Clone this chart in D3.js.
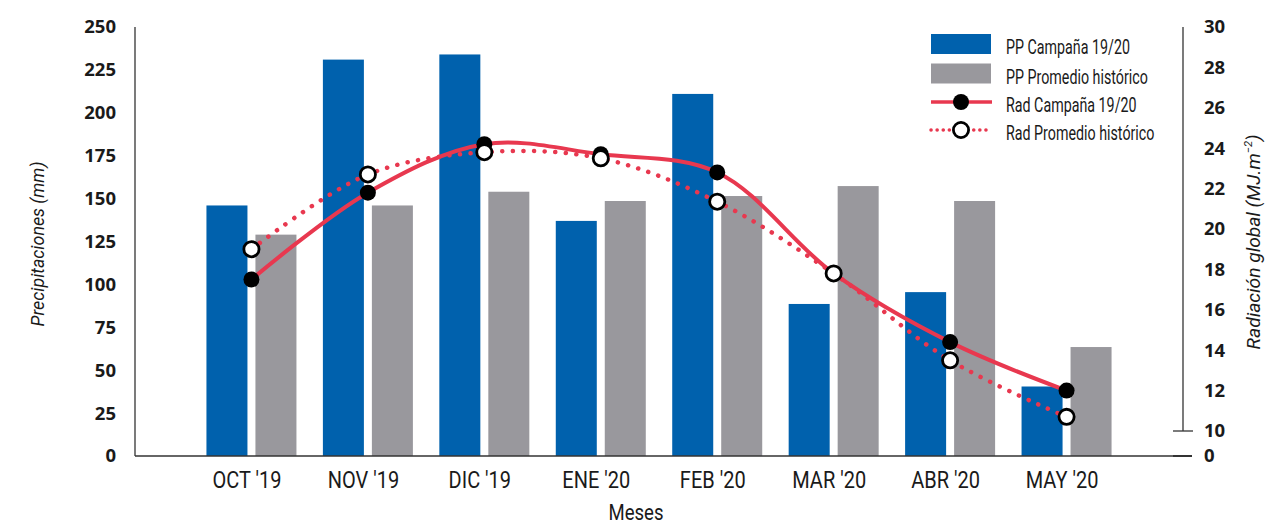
<!DOCTYPE html>
<html>
<head>
<meta charset="utf-8">
<script src="https://cdn.jsdelivr.net/npm/d3@7"></script>
<style>
  html, body { margin: 0; padding: 0; background: #fff; }
  svg { display: block; }
  .tick-num { font-family: "Open Sans", "Liberation Sans", sans-serif; font-weight: 700; font-size: 18.5px; fill: #1a1a1a; }
  .cond { font-family: Roboto, "Open Sans", sans-serif; fill: #1a1a1a; }
</style>
</head>
<body>
<svg id="chart" width="1265" height="526"></svg>
<script>
// Monthly categories (Oct 2019 – May 2020)
const months = ["OCT '19", "NOV '19", "DIC '19", "ENE '20", "FEB '20", "MAR '20", "ABR '20", "MAY '20"];

// Precipitation (mm)
const ppCampana  = [146, 231, 234, 137, 211, 88.6, 95.5, 40.5];
const ppHistorico = [129, 146, 154, 148.6, 151.5, 157.3, 148.6, 63.5];

// Global radiation (MJ.m-2)
const radCampana  = [17.5, 21.8, 24.2, 23.7, 22.8, 17.8, 14.4, 12.0];
const radHistorico = [19.0, 22.7, 23.8, 23.5, 21.35, 17.8, 13.5, 10.7];

// Axis ticks
const leftTicks  = [0, 25, 50, 75, 100, 125, 150, 175, 200, 225, 250];
const rightTicks = [10, 12, 14, 16, 18, 20, 22, 24, 26, 28, 30];

const legendItems = ["PP Campaña 19/20", "PP Promedio histórico", "Rad Campaña 19/20", "Rad Promedio histórico"];

const BLUE = "#0061ad", GRAY = "#99989d", RED = "#e8384f", AXIS = "#333";

const svg = d3.select("#chart");

const xLeft = 135, xRight = 1183, yZero = 456, yTop = 27;

const x = d3.scalePoint().domain(months).range([xLeft, xRight]).padding(1);
const inner = d3.scaleBand().domain(["campana", "historico"]).range([-45, 45]).paddingInner(0.163);
const yL = d3.scaleLinear().domain([0, 250]).range([yZero, yTop]);
const yR = d3.scaleLinear().domain([10, 30]).range([431, yTop]);

// Horizontal compression factor so a text run spans a given width (condensed look)
function squeeze(node, width) {
  return width / node.getComputedTextLength();
}

// Bars
const barSeries = [
  { key: "campana", values: ppCampana, color: BLUE },
  { key: "historico", values: ppHistorico, color: GRAY }
];
barSeries.forEach(s => {
  svg.append("g").selectAll("rect").data(s.values).join("rect")
    .attr("x", (d, i) => x(months[i]) + inner(s.key))
    .attr("width", inner.bandwidth())
    .attr("y", d => yL(d))
    .attr("height", d => yZero - yL(d))
    .attr("fill", s.color);
});

// Left axis (labels only, plus spine)
const gL = svg.append("g").attr("transform", `translate(${xLeft},0)`)
  .call(d3.axisLeft(yL).tickValues(leftTicks).tickSize(0).tickPadding(19));
gL.select(".domain").attr("stroke", AXIS).attr("stroke-width", 1.3).attr("d", `M0,${yTop}V${yZero}`);
gL.selectAll("text").attr("class", "tick-num").attr("font-family", null).attr("font-size", null).attr("fill", null);

// Right axis 10–30 with a broken segment down to 0
const gR = svg.append("g").attr("transform", `translate(${xRight},0)`)
  .call(d3.axisRight(yR).tickValues(rightTicks).tickSize(0).tickPadding(21));
gR.select(".domain").attr("stroke", AXIS).attr("stroke-width", 1.3).attr("d", `M0,${yTop}V${yR(10)}`);
gR.selectAll("text").attr("class", "tick-num").attr("font-family", null).attr("font-size", null).attr("fill", null);
gR.append("line").attr("x1", -10).attr("x2", 10).attr("y1", yR(10)).attr("y2", yR(10))
  .attr("stroke", AXIS).attr("stroke-width", 1.3);
gR.append("text").attr("class", "tick-num").attr("x", 21).attr("y", yZero).attr("dy", "0.32em").text("0");

// X axis
const gX = svg.append("g").attr("transform", `translate(0,${yZero})`)
  .call(d3.axisBottom(x).tickSize(0));
gX.select(".domain").attr("stroke", AXIS).attr("stroke-width", 1.5).attr("d", `M${xLeft},0H${xRight + 9}`);
gX.append("line").attr("x1", xRight - 10).attr("x2", xRight + 9).attr("y1", 0).attr("y2", 0)
  .attr("stroke", AXIS).attr("stroke-width", 2);
const xTexts = gX.selectAll(".tick text").attr("class", "cond").attr("font-family", null).attr("fill", null)
  .attr("font-size", 24).attr("y", 32).attr("dy", null).attr("dx", -6);
const sxLabels = squeeze(xTexts.node(), 69);
xTexts.attr("transform", `scale(${sxLabels},1)`);

// Axis titles
const lt = svg.append("text").attr("class", "cond").attr("font-style", "italic").attr("font-size", 19)
  .attr("text-anchor", "middle").text("Precipitaciones (mm)");
lt.attr("transform", `translate(44,244) rotate(-90) scale(${squeeze(lt.node(), 165)},1)`);

const rt = svg.append("text").attr("class", "cond").attr("font-style", "italic").attr("font-size", 19)
  .attr("text-anchor", "middle");
rt.append("tspan").text("Radiación global (MJ.m");
rt.append("tspan").attr("font-size", 11).attr("dy", -8).text("−2");
rt.append("tspan").attr("dy", 8).text(")");
rt.attr("transform", `translate(1260,242) rotate(-90) scale(${squeeze(rt.node(), 215)},1)`);

const mt = svg.append("text").attr("class", "cond").attr("font-size", 22).attr("text-anchor", "middle").text("Meses");
mt.attr("transform", `translate(636,520) scale(${squeeze(mt.node(), 55)},1)`);

// Radiation lines
const line = d3.line()
  .x((d, i) => x(months[i]))
  .y(d => yR(d))
  .curve(d3.curveCatmullRom.alpha(0.5));

svg.append("path").datum(radHistorico).attr("d", line)
  .attr("fill", "none").attr("stroke", RED).attr("stroke-width", 4.5)
  .attr("stroke-linecap", "round").attr("stroke-dasharray", "0.1 10.5");
svg.append("path").datum(radCampana).attr("d", line)
  .attr("fill", "none").attr("stroke", RED).attr("stroke-width", 4);

svg.append("g").selectAll("circle").data(radCampana).join("circle")
  .attr("cx", (d, i) => x(months[i])).attr("cy", d => yR(d)).attr("r", 8)
  .attr("fill", "#000");
svg.append("g").selectAll("circle").data(radHistorico).join("circle")
  .attr("cx", (d, i) => x(months[i])).attr("cy", d => yR(d)).attr("r", 7.6)
  .attr("fill", "#fff").attr("stroke", "#000").attr("stroke-width", 2.8);

// Legend
const lg = svg.append("g");
const lgX = 931, txtX = 1006;
const rowsY = [44, 73.5, 102, 130];
lg.append("rect").attr("x", lgX).attr("y", rowsY[0] - 10).attr("width", 60).attr("height", 20).attr("fill", BLUE);
lg.append("rect").attr("x", lgX).attr("y", rowsY[1] - 10).attr("width", 60).attr("height", 20).attr("fill", GRAY);
lg.append("line").attr("x1", lgX).attr("x2", lgX + 61).attr("y1", rowsY[2]).attr("y2", rowsY[2])
  .attr("stroke", RED).attr("stroke-width", 3.5);
lg.append("circle").attr("cx", lgX + 30).attr("cy", rowsY[2]).attr("r", 8).attr("fill", "#000");
lg.append("line").attr("x1", lgX).attr("x2", lgX + 61).attr("y1", rowsY[3]).attr("y2", rowsY[3])
  .attr("stroke", RED).attr("stroke-width", 3.5).attr("stroke-linecap", "round").attr("stroke-dasharray", "0.1 6");
lg.append("circle").attr("cx", lgX + 30).attr("cy", rowsY[3]).attr("r", 7.6)
  .attr("fill", "#fff").attr("stroke", "#000").attr("stroke-width", 2.8);
const lgTexts = lg.selectAll("text").data(legendItems).join("text")
  .attr("class", "cond").attr("font-size", 19.5).text(d => d);
const sxLegend = squeeze(lgTexts.node(), 124);
lgTexts.attr("transform", (d, i) => `translate(${txtX},${rowsY[i] + 10}) scale(${sxLegend},1)`);
</script>
</body>
</html>
